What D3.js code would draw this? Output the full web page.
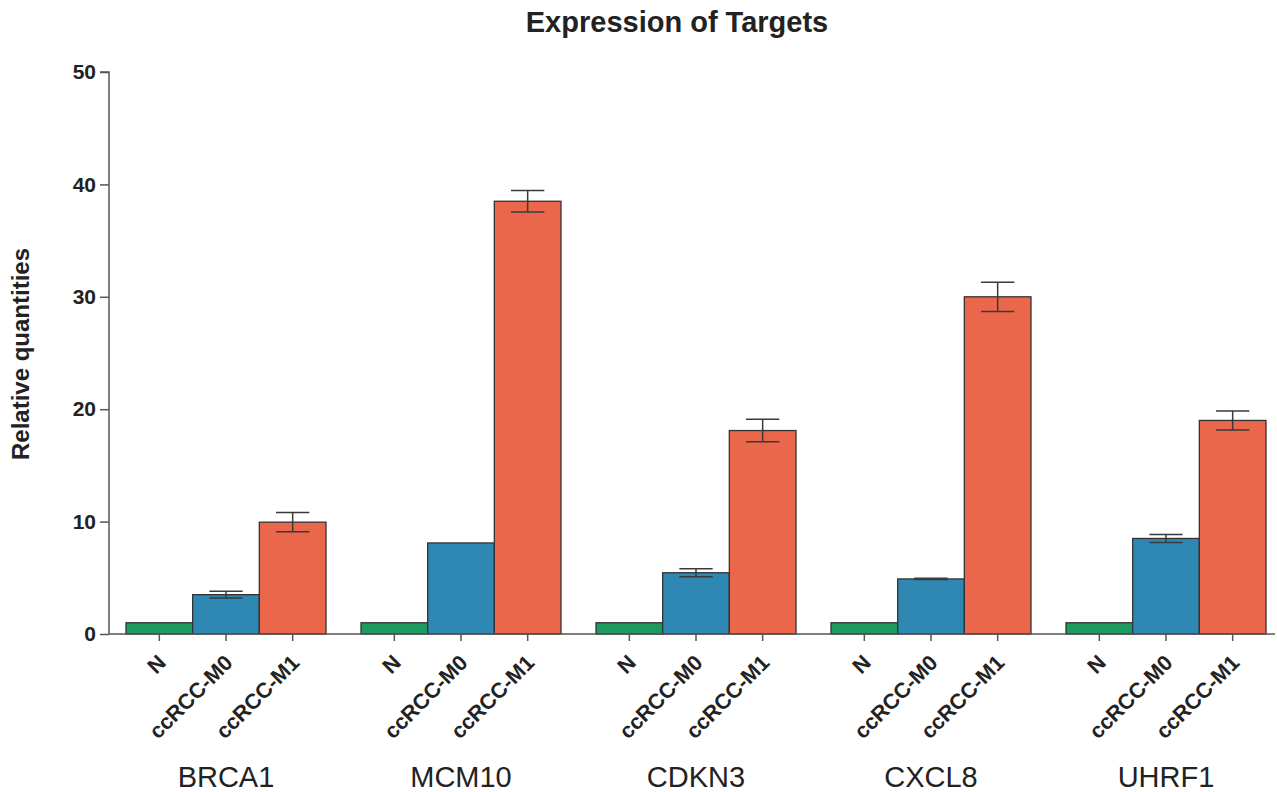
<!DOCTYPE html>
<html lang="en">
<head>
    <meta charset="UTF-8">
    <title>Expression of Targets</title>
    <script src="https://d3js.org/d3.v7.min.js"></script>
    <style>
        body { margin: 0; background: #fff; }
        text { font-family: "Liberation Sans", Arial, sans-serif; }
    </style>
</head>
<body>
    <div id="chart-container"></div>
    <script>
        // data
        const genes = ["BRCA1", "MCM10", "CDKN3", "CXCL8", "UHRF1"];
        const groups = ["N", "ccRCC-M0", "ccRCC-M1"];
        const valuesN = [1, 1, 1, 1, 1];
        const valuesM0 = [3.5, 8.1, 5.45, 4.9, 8.5];
        const valuesM1 = [9.95, 38.5, 18.1, 30, 19];
        const errorsM0 = [0.3, 0, 0.35, 0.05, 0.35];
        const errorsM1 = [0.85, 0.95, 1.0, 1.3, 0.85];
        const yTicks = [0, 10, 20, 30, 40, 50];
        const colors = ["#1c9a5f", "#2f88b3", "#eb674b"];

        const W = 1277, H = 792;
        const margins = { top: 72, right: 2, bottom: 158, left: 109 };
        const width = W - margins.left - margins.right;
        const height = H - margins.top - margins.bottom;

        const rows = [];
        genes.forEach((g, i) => {
            rows.push({ gene: g, group: groups[0], value: valuesN[i], err: 0 });
            rows.push({ gene: g, group: groups[1], value: valuesM0[i], err: errorsM0[i] });
            rows.push({ gene: g, group: groups[2], value: valuesM1[i], err: errorsM1[i] });
        });

        const svg = d3.select("#chart-container")
            .append("svg")
            .attr("width", W)
            .attr("height", H)
            .append("g")
            .attr("transform", `translate(${margins.left},${margins.top})`);

        // gene band: 235px step, 200px of bars, first group starts 17px in
        const x0 = d3.scaleBand()
            .domain(genes)
            .range([17 - 17.5, 17 - 17.5 + 235 * genes.length])
            .paddingInner(35 / 235)
            .paddingOuter(0.5 * 35 / 235);

        const x1 = d3.scaleBand()
            .domain(groups)
            .range([0, x0.bandwidth()]);

        const y = d3.scaleLinear()
            .domain([0, 50])
            .range([height, 0]);

        const color = d3.scaleOrdinal().domain(groups).range(colors);

        // bars
        svg.selectAll(".bar")
            .data(rows)
            .enter()
            .append("rect")
            .attr("class", "bar")
            .attr("x", d => x0(d.gene) + x1(d.group))
            .attr("y", d => y(d.value))
            .attr("width", x1.bandwidth())
            .attr("height", d => y(0) - y(d.value))
            .style("fill", d => color(d.group))
            .style("stroke", "#333")
            .style("stroke-width", 1.3);

        // error bars
        const errRows = rows.filter(d => d.err > 0);
        const capW = x1.bandwidth() / 2;
        const eb = svg.selectAll(".err")
            .data(errRows)
            .enter()
            .append("g")
            .attr("class", "err")
            .attr("transform", d => `translate(${x0(d.gene) + x1(d.group) + x1.bandwidth() / 2},0)`)
            .style("stroke", "#3a3a3a")
            .style("stroke-width", 1.5);
        eb.append("line")
            .attr("y1", d => y(d.value + d.err))
            .attr("y2", d => y(d.value - d.err));
        eb.append("line")
            .attr("x1", -capW / 2).attr("x2", capW / 2)
            .attr("y1", d => y(d.value + d.err)).attr("y2", d => y(d.value + d.err));
        eb.append("line")
            .attr("x1", -capW / 2).attr("x2", capW / 2)
            .attr("y1", d => y(d.value - d.err)).attr("y2", d => y(d.value - d.err));

        // y axis
        const yAxis = svg.append("g")
            .attr("class", "axis axis-y")
            .call(d3.axisLeft(y).tickValues(yTicks).tickSize(9).tickPadding(4));
        yAxis.select(".domain").attr("d", `M-9,${y(50)}H0V${height}`).style("stroke", "#555").style("stroke-width", 1.5);
        yAxis.selectAll(".tick line").style("stroke", "#555").style("stroke-width", 1.5);
        yAxis.selectAll(".tick text")
            .style("font-size", "21px")
            .style("font-weight", "bold")
            .style("fill", "#222");

        // x axis line
        svg.append("line")
            .attr("x1", 0).attr("x2", width)
            .attr("y1", height).attr("y2", height)
            .style("stroke", "#555").style("stroke-width", 1.5);

        // x ticks + rotated group labels
        svg.selectAll(".xtick")
            .data(rows)
            .enter()
            .append("line")
            .attr("class", "xtick")
            .attr("x1", d => x0(d.gene) + x1(d.group) + x1.bandwidth() / 2)
            .attr("x2", d => x0(d.gene) + x1(d.group) + x1.bandwidth() / 2)
            .attr("y1", height).attr("y2", height + 7)
            .style("stroke", "#555").style("stroke-width", 1.5);

        svg.selectAll(".xlabel")
            .data(rows)
            .enter()
            .append("text")
            .attr("class", "xlabel")
            .attr("text-anchor", "end")
            .attr("transform", d => `translate(${x0(d.gene) + x1(d.group) + x1.bandwidth() / 2 + 8},${height + 30}) rotate(-45)`)
            .style("font-size", "21.5px")
            .style("font-weight", "bold")
            .style("fill", "#222")
            .text(d => d.group);

        // gene names
        svg.selectAll(".gene")
            .data(genes)
            .enter()
            .append("text")
            .attr("class", "gene")
            .attr("x", d => x0(d) + x0.bandwidth() / 2)
            .attr("y", height + 153)
            .attr("text-anchor", "middle")
            .style("font-size", "29px")
            .style("fill", "#222")
            .text(d => d);

        // title and axis label
        svg.append("text")
            .attr("x", 677 - margins.left)
            .attr("y", 32 - margins.top)
            .attr("text-anchor", "middle")
            .style("font-size", "29px")
            .style("font-weight", "bold")
            .style("fill", "#222")
            .text("Expression of Targets");

        svg.append("text")
            .attr("transform", `translate(${29 - margins.left},${354 - margins.top}) rotate(-90)`)
            .attr("text-anchor", "middle")
            .style("font-size", "24px")
            .style("font-weight", "bold")
            .style("fill", "#222")
            .text("Relative quantities");
    </script>
</body>
</html>
